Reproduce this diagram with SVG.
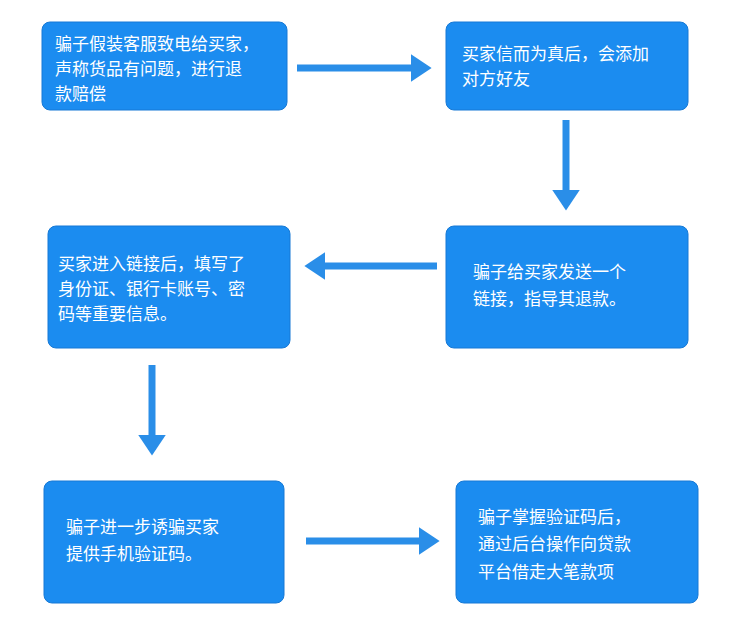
<svg xmlns="http://www.w3.org/2000/svg" width="738" height="620" viewBox="0 0 738 620">
<style>
.box{fill:#1b8cf0;stroke:#1679d6;stroke-width:1}
.t{font-family:"Noto Sans CJK SC",sans-serif;font-size:17px;fill:#fff}
.c{stroke:#2a8ee8;stroke-width:7;fill:none}
</style>
<defs><marker id="a" markerWidth="4" markerHeight="4" refX="2.2" refY="2" orient="auto" markerUnits="strokeWidth"><path d="M0,0L3,2L0,4Z" fill="#2a8ee8"/></marker></defs>
<rect width="738" height="620" fill="#fff"/>
<g id="n1"><rect class="box" x="42" y="22" width="245" height="88" rx="8"/><text class="t"><tspan x="55" y="50">骗子假装客服致电给买家，</tspan><tspan x="55" y="75">声称货品有问题，进行退</tspan><tspan x="55" y="100">款赔偿</tspan></text></g>
<g id="n2"><rect class="box" x="446" y="22" width="242" height="88" rx="8"/><text class="t"><tspan x="462" y="60">买家信而为真后，会添加</tspan><tspan x="462" y="85">对方好友</tspan></text></g>
<g id="n3"><rect class="box" x="446" y="226" width="242" height="122" rx="8"/><text class="t"><tspan x="473" y="278">骗子给买家发送一个</tspan><tspan x="473" y="305">链接，指导其退款。</tspan></text></g>
<g id="n4"><rect class="box" x="48" y="226" width="242" height="122" rx="8"/><text class="t"><tspan x="58" y="270">买家进入链接后，填写了</tspan><tspan x="58" y="295">身份证、银行卡账号、密</tspan><tspan x="58" y="320">码等重要信息。</tspan></text></g>
<g id="n5"><rect class="box" x="44" y="481" width="240" height="122" rx="8"/><text class="t"><tspan x="66" y="533">骗子进一步诱骗买家</tspan><tspan x="66" y="560">提供手机验证码。</tspan></text></g>
<g id="n6"><rect class="box" x="456" y="481" width="242" height="122" rx="8"/><text class="t"><tspan x="478" y="523">骗子掌握验证码后，</tspan><tspan x="478" y="550">通过后台操作向贷款</tspan><tspan x="478" y="578">平台借走大笔款项</tspan></text></g>
<g id="connectors">
<line class="c" x1="297" y1="68" x2="426" y2="68" marker-end="url(#a)"/>
<line class="c" x1="566" y1="120" x2="566" y2="205" marker-end="url(#a)"/>
<line class="c" x1="437" y1="266" x2="310" y2="266" marker-end="url(#a)"/>
<line class="c" x1="152" y1="365" x2="152" y2="450" marker-end="url(#a)"/>
<line class="c" x1="306" y1="541" x2="434" y2="541" marker-end="url(#a)"/>
</g>
</svg>
